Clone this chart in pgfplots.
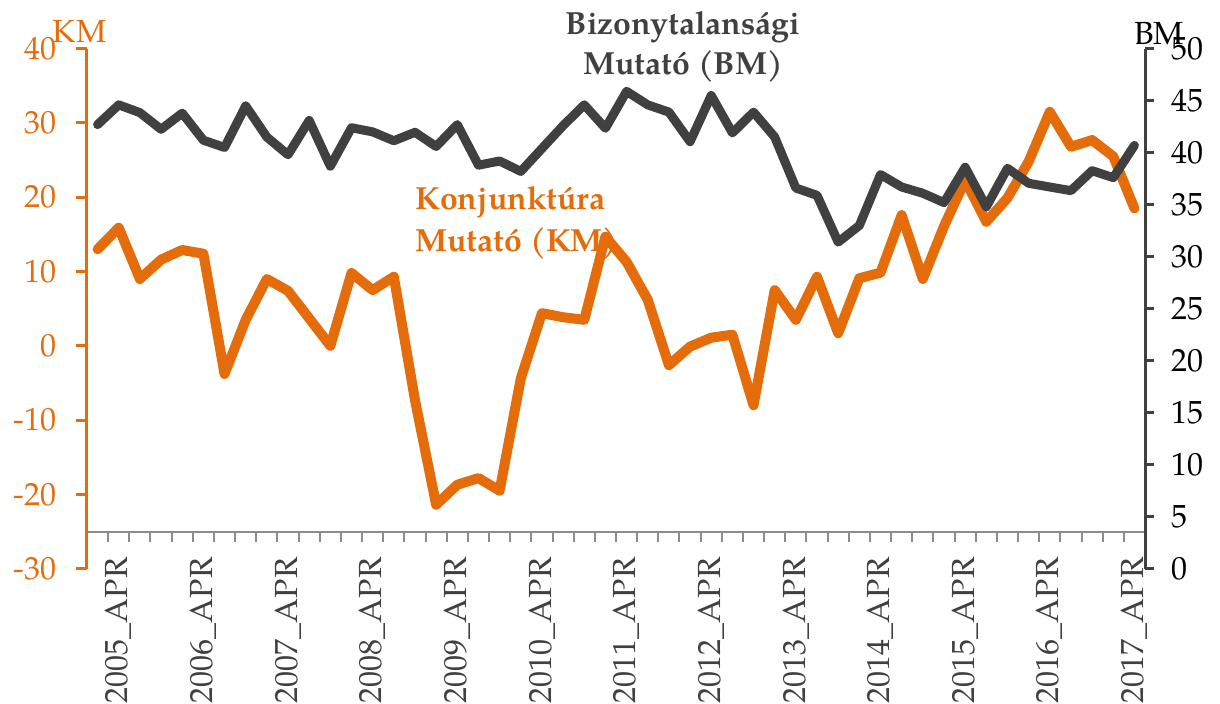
\documentclass[border=0pt]{standalone}
\usepackage{fontspec}
\setmainfont{TeX Gyre Pagella}
\usepackage{pgfplots}
\usepackage{pgfplotstable}
\pgfplotsset{compat=1.18}
\definecolor{km}{HTML}{E46C0A}
\definecolor{bm}{HTML}{404040}
\definecolor{xax}{HTML}{8C8C8C}

\pgfplotstableread{
i km bm
0 13.0 42.7
1 15.9 44.6
2 9.0 43.85
3 11.6 42.25
4 12.9 43.8
5 12.4 41.2
6 -3.8 40.5
7 3.5 44.5
8 9.0 41.5
9 7.4 39.8
10 3.7 43.1
11 0.0 38.7
12 9.8 42.4
13 7.5 42.0
14 9.3 41.15
15 -7.3 41.96
16 -21.4 40.6
17 -18.7 42.7
18 -17.8 38.8
19 -19.5 39.2
20 -4.4 38.2
21 4.4 40.4
22 3.85 42.6
23 3.5 44.6
24 14.7 42.35
25 11.3 45.9
26 6.2 44.6
27 -2.6 43.9
28 -0.1 41.06
29 1.1 45.5
30 1.5 41.9
31 -8.0 43.9
32 7.5 41.5
33 3.5 36.6
34 9.3 35.9
35 1.7 31.4
36 9.1 33.0
37 9.85 37.9
38 17.6 36.7
39 9.0 36.1
40 16.1 35.2
41 22.3 38.6
42 16.7 34.8
43 19.9 38.5
44 24.8 37.06
45 31.5 36.7
46 26.8 36.35
47 27.7 38.27
48 25.5 37.6
49 18.5 40.7
}\data

\begin{document}
\begin{tikzpicture}[font=\fontsize{16}{19}\selectfont]
\useasboundingbox (-43.5pt,-67.65pt) rectangle (566.5pt,284.35pt);

% x axis (crosses KM at -25)
\begin{axis}[
  at={(0pt,18.571pt)}, anchor=south west,
  scale only axis, width=529pt, height=241.43pt,
  xmin=-0.5, xmax=49.5, ymin=-25, ymax=40,
  hide y axis,
  axis x line*=bottom,
  x axis line style={xax, line width=1pt, -},
  xtick={1,5,...,49},
  xticklabels={2005\_APR,2006\_APR,2007\_APR,2008\_APR,2009\_APR,2010\_APR,2011\_APR,2012\_APR,2013\_APR,2014\_APR,2015\_APR,2016\_APR,2017\_APR},
  tick align=outside,
  major tick length=5pt,
  major x tick style={draw=none},
  extra x ticks={-0.5,0.5,...,49.5},
  extra x tick labels={},
  extra x tick style={major x tick style={draw=xax, line width=1pt}},
  xticklabel style={rotate=90, anchor=east, text=bm, font=\fontsize{16}{19}\selectfont},
  xticklabel shift=4.5pt,
]
\end{axis}

% KM (left axis)
\begin{axis}[
  scale only axis, width=529pt, height=260pt,
  xmin=-0.5, xmax=49.5, ymin=-30, ymax=40,
  hide x axis,
  axis y line*=left,
  y axis line style={km, line width=1.5pt, -},
  ytick={-30,-20,...,40},
  yticklabels={-30,-20,-10,0,10,20,30,40},
  tick align=outside,
  major tick length=5.5pt,
  ytick style={km, line width=1.5pt},
  yticklabel style={text=km, font=\fontsize{16}{19}\selectfont},
  yticklabel shift=6.3pt,
]
\addplot[km, line width=5pt, line join=round, line cap=round] table[x=i,y=km]{\data};
\end{axis}

% BM (right axis)
\begin{axis}[
  scale only axis, width=529pt, height=260pt,
  xmin=-0.5, xmax=49.5, ymin=0, ymax=50,
  hide x axis,
  axis y line*=right,
  y axis line style={bm, line width=1.5pt, -},
  ytick={0,5,...,50},
  yticklabels={0,5,10,15,20,25,30,35,40,45,50},
  tick align=outside,
  major tick length=4.5pt,
  ytick style={bm, line width=1.5pt},
  yticklabel style={text=black, font=\fontsize{16}{19}\selectfont},
  yticklabel shift=5.2pt,
]
\addplot[bm, line width=4.5pt, line join=round, line cap=round] table[x=i,y=bm]{\data};
\end{axis}

% annotations
\node[anchor=base, text=km, inner sep=0pt] at (-3.65pt,263pt) {KM};
\node[anchor=base, text=black, inner sep=0pt] at (536pt,261.85pt) {BM};
\node[anchor=base, text=bm, inner sep=0pt, font=\fontsize{16}{19}\selectfont\bfseries] at (298pt,266.85pt) {Bizonytalansági};
\node[anchor=base, text=bm, inner sep=0pt, font=\fontsize{16}{19}\selectfont\bfseries] at (298pt,246.85pt) {Mutató (BM)};
\node[anchor=base west, text=km, inner sep=0pt, font=\fontsize{16}{19}\selectfont\bfseries] at (164pt,179.35pt) {Konjunktúra};
\node[anchor=base west, text=km, inner sep=0pt, font=\fontsize{16}{19}\selectfont\bfseries] at (164pt,158.5pt) {Mutató (KM)};
\end{tikzpicture}
\end{document}
